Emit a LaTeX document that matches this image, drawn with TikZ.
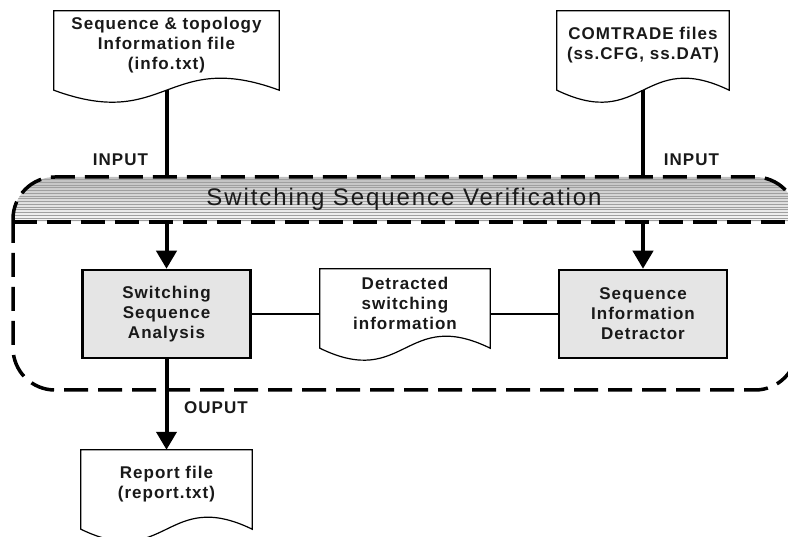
\documentclass[tikz,border=0pt]{standalone}
\usepackage{fontspec}
\setmainfont{Liberation Sans}
\newfontfamily\lblfont[LetterSpace=6]{Liberation Sans}
\newfontfamily\ttlfont[LetterSpace=8]{Liberation Sans}
\usetikzlibrary{arrows.meta,calc}
\newcommand\docoutline[1]{%
  \draw[docline] (#1.north west) -- (#1.north east) -- ($(#1.south east)+(0,11)$)
    .. controls ($(#1.south)+(0,-30.6)$) and ($(#1.south)+(0,52.6)$) ..
    ($(#1.south west)+(0,11)$) -- cycle;}
\begin{document}
\begin{tikzpicture}[x=1pt,y=-1pt,
  txt/.style={font=\lblfont\bfseries\fontsize{17}{20}\selectfont, align=center, text=black!90},
  docnode/.style={txt, rectangle, inner sep=0pt, minimum height=68pt},
  docline/.style={draw=black, fill=white, line width=1.2pt},
  procbox/.style={txt, rectangle, draw=black, line width=2.5pt, fill=gray!20, minimum width=168pt, minimum height=88pt, inner sep=0pt},
  dashline/.style={draw=black, line width=3.5pt, dash pattern=on 24pt off 10pt},
  inline/.style={draw=black, line width=4pt},
  arr/.style={draw=black, line width=4pt, -{Triangle[width=20pt,length=18pt]}},
  thinconn/.style={draw=black, line width=2pt},
  lbl/.style={txt, inner sep=0pt}
]
\useasboundingbox (0,0) rectangle (788,537);
\begin{scope}
\clip (0,0) rectangle (788,537);
% band fill
\begin{scope}
  \clip[rounded corners=42pt] (13,177) rectangle (797,390);
  \shade[top color=gray!50, bottom color=gray!6] (0,177) rectangle (800,222);
  \foreach \yy in {179.5,182.25,...,221} \draw[gray!75, line width=0.55pt] (0,\yy) -- (800,\yy);
\end{scope}
\draw[dashline, rounded corners=42pt] (13,177) rectangle (797,390);
\draw[dashline] (13,222) -- (797,222);
\node[font=\ttlfont\fontsize{24}{28}\selectfont, text=black!90, inner sep=0pt, minimum height=45pt] (band) at (404,199.5) {Switching Sequence Verification};

% documents
\node[docnode, minimum width=225pt] (doc1) at (166.5,45) {};
\docoutline{doc1}
\node[docnode, minimum width=225pt] at (doc1) {Sequence \& topology\\Information file\\(info.txt)};
\node[docnode, minimum width=172pt] (doc2) at (643,45) {};
\docoutline{doc2}
\node[docnode, minimum width=172pt] at (doc2) {COMTRADE files\\(ss.CFG, ss.DAT)};
\node[docnode, minimum width=170pt] (doc3) at (405,303) {};
\docoutline{doc3}
\node[docnode, minimum width=170pt] at (doc3) {Detracted\\switching\\information};
\node[docnode, minimum width=171pt] (doc4) at (166.5,484) {};
\docoutline{doc4}
\node[docnode, minimum width=171pt] at (doc4) {Report file\\(report.txt)};

% process boxes
\node[procbox] (box1) at (166.5,314) {Switching\\Sequence\\Analysis};
\node[procbox] (box2) at (643,314) {Sequence\\Information\\Detractor};

% connectors
\coordinate (doc1b) at ($(doc1.south)+(0,11)$);
\coordinate (doc2b) at ($(doc2.south)+(0,11)$);
\draw[inline] (doc1b) -- (doc1b |- band.north);
\draw[inline] (doc2b) -- (doc2b |- band.north);
\draw[arr] (box1 |- band.south) -- (box1.north);
\draw[arr] (box2 |- band.south) -- (box2.north);
\draw[arr] (box1.south) -- (doc4.north);
\draw[thinconn] (box1.east) -- (box1.east -| doc3.west);
\draw[thinconn] (box2.west -| doc3.east) -- (box2.west);

% labels
\node[lbl] (inL) at (120.5,160) {INPUT};
\node[lbl] (inR) at (691.5,160) {INPUT};
\node[lbl] (outL) at (216,408) {OUPUT};
\end{scope}
\end{tikzpicture}
\end{document}
